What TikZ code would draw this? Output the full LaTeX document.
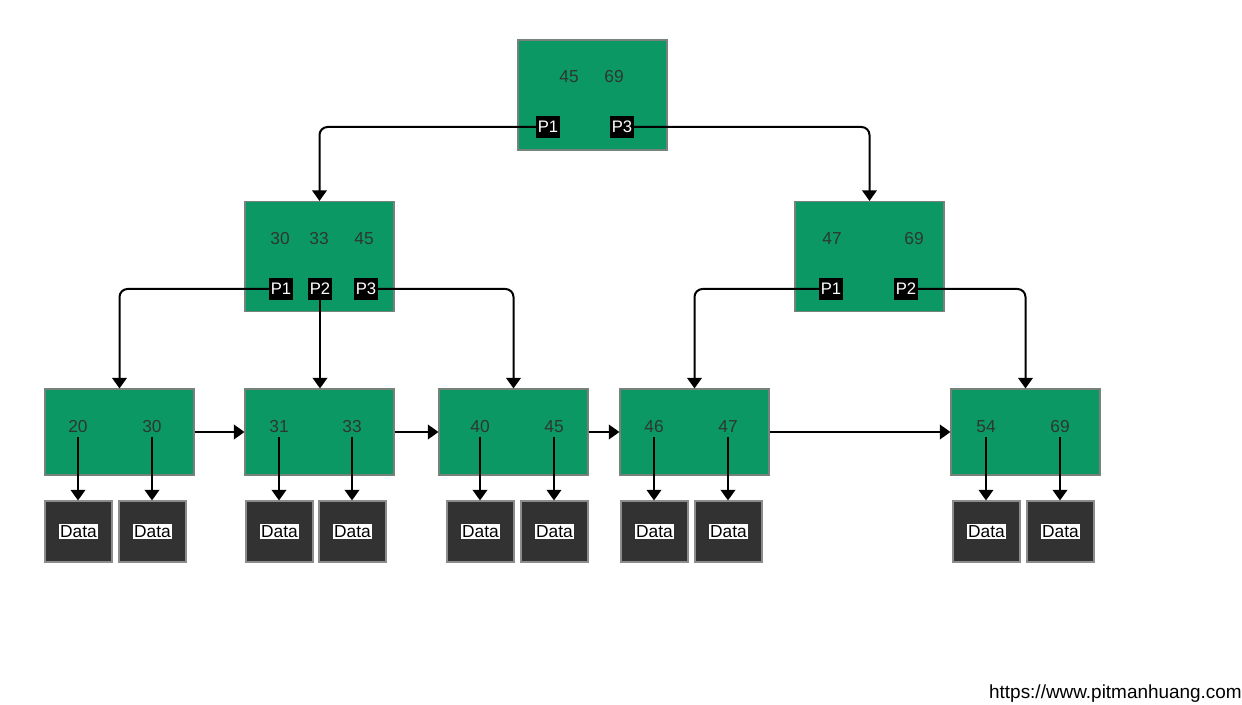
\documentclass[tikz,border=0pt]{standalone}
\usepackage{fontspec}
\setmainfont{Liberation Sans}
\usetikzlibrary{arrows.meta}
\definecolor{nodegreen}{RGB}{12,152,100}
\definecolor{nodeedge}{RGB}{120,130,125}
\definecolor{keytext}{RGB}{45,55,50}
\definecolor{databg}{RGB}{50,50,50}
\definecolor{dataedge}{RGB}{140,140,140}
\tikzset{
  treenode/.style={draw=nodeedge, line width=0.8pt, fill=nodegreen, minimum width=149*0.75pt, minimum height=110*0.75pt, inner sep=0pt},
  leafnode/.style={draw=nodeedge, line width=0.8pt, fill=nodegreen, minimum width=149*0.75pt, minimum height=86*0.75pt, inner sep=0pt},
  keylabel/.style={text=keytext, font=\fontsize{13}{15}\selectfont, inner sep=2.5pt},
  ptrlabel/.style={fill=black, text=white, font=\fontsize{12.5}{14}\selectfont, inner sep=1.2pt, minimum height=16.5pt},
  databox/.style={draw=dataedge, line width=0.8pt, fill=databg, minimum width=67*0.75pt, minimum height=61*0.75pt, inner sep=0pt},
  datalabel/.style={fill=white, text=black, font=\fontsize{13}{15}\selectfont, inner sep=1pt},
  conn/.style={line width=1.5pt, -{Triangle[width=11pt,length=8pt]}, rounded corners=6pt},
}
\begin{document}
\begin{tikzpicture}[x=0.75pt,y=-0.75pt]
\useasboundingbox (0,0) rectangle (1242,705);
% root
\node[treenode] (root) at (592.5,95) {};
\node[keylabel] (r-k1) at (569,77) {45};
\node[keylabel] (r-k2) at (614,77) {69};
\node[ptrlabel] (r-p1) at (548,127) {P1};
\node[ptrlabel] (r-p3) at (622,127) {P3};
% middle nodes
\node[treenode] (m1) at (319.5,256.5) {};
\node[keylabel] (m1-k1) at (280,239) {30};
\node[keylabel] (m1-k2) at (319,239) {33};
\node[keylabel] (m1-k3) at (364,239) {45};
\node[ptrlabel] (m1-p1) at (281,289) {P1};
\node[ptrlabel] (m1-p2) at (320,289) {P2};
\node[ptrlabel] (m1-p3) at (366,289) {P3};
\node[treenode] (m2) at (869.5,256.5) {};
\node[keylabel] (m2-k1) at (832,239) {47};
\node[keylabel] (m2-k2) at (914,239) {69};
\node[ptrlabel] (m2-p1) at (831,289) {P1};
\node[ptrlabel] (m2-p2) at (906,289) {P2};
% leaves
\node[leafnode] (l1) at (119.5,432) {};
\node[leafnode] (l2) at (319.5,432) {};
\node[leafnode] (l3) at (513.5,432) {};
\node[leafnode] (l4) at (694.5,432) {};
\node[leafnode] (l5) at (1025.5,432) {};
\foreach \nm/\xa/\ka/\xb/\kb in {l1/78/20/152/30, l2/279/31/352/33, l3/480/40/554/45, l4/654/46/728/47, l5/986/54/1060/69}{
  \node[keylabel] (\nm-k1) at (\xa,427) {\ka};
  \node[keylabel] (\nm-k2) at (\xb,427) {\kb};
  \node[databox] (\nm-d1) at (\xa+0.5,531.5) {};
  \node[databox] (\nm-d2) at (\xb+0.5,531.5) {};
  \node[datalabel] (\nm-t1) at (\nm-d1) {Data};
  \node[datalabel] (\nm-t2) at (\nm-d2) {Data};
  \draw[conn] (\nm-k1.south) -- (\nm-k1.south |- \nm-d1.north);
  \draw[conn] (\nm-k2.south) -- (\nm-k2.south |- \nm-d2.north);
}
% tree connectors
\draw[conn] (r-p1.west) -| (m1.north);
\draw[conn] (r-p3.east) -| (m2.north);
\draw[conn] (m1-p1.west) -| (l1.north);
\draw[conn] (m1-p2.south) -- (m1-p2.south |- l2.north);
\draw[conn] (m1-p3.east) -| (l3.north);
\draw[conn] (m2-p1.west) -| (l4.north);
\draw[conn] (m2-p2.east) -| (l5.north);
% leaf links
\draw[conn] (l1.east) -- (l2.west);
\draw[conn] (l2.east) -- (l3.west);
\draw[conn] (l3.east) -- (l4.west);
\draw[conn] (l4.east) -- (l5.west);
% url
\node[anchor=east, text=black, font=\fontsize{14.2}{16}\selectfont, inner sep=0pt] (url) at (1242,694) {https://www.pitmanhuang.com};
\end{tikzpicture}
\end{document}
